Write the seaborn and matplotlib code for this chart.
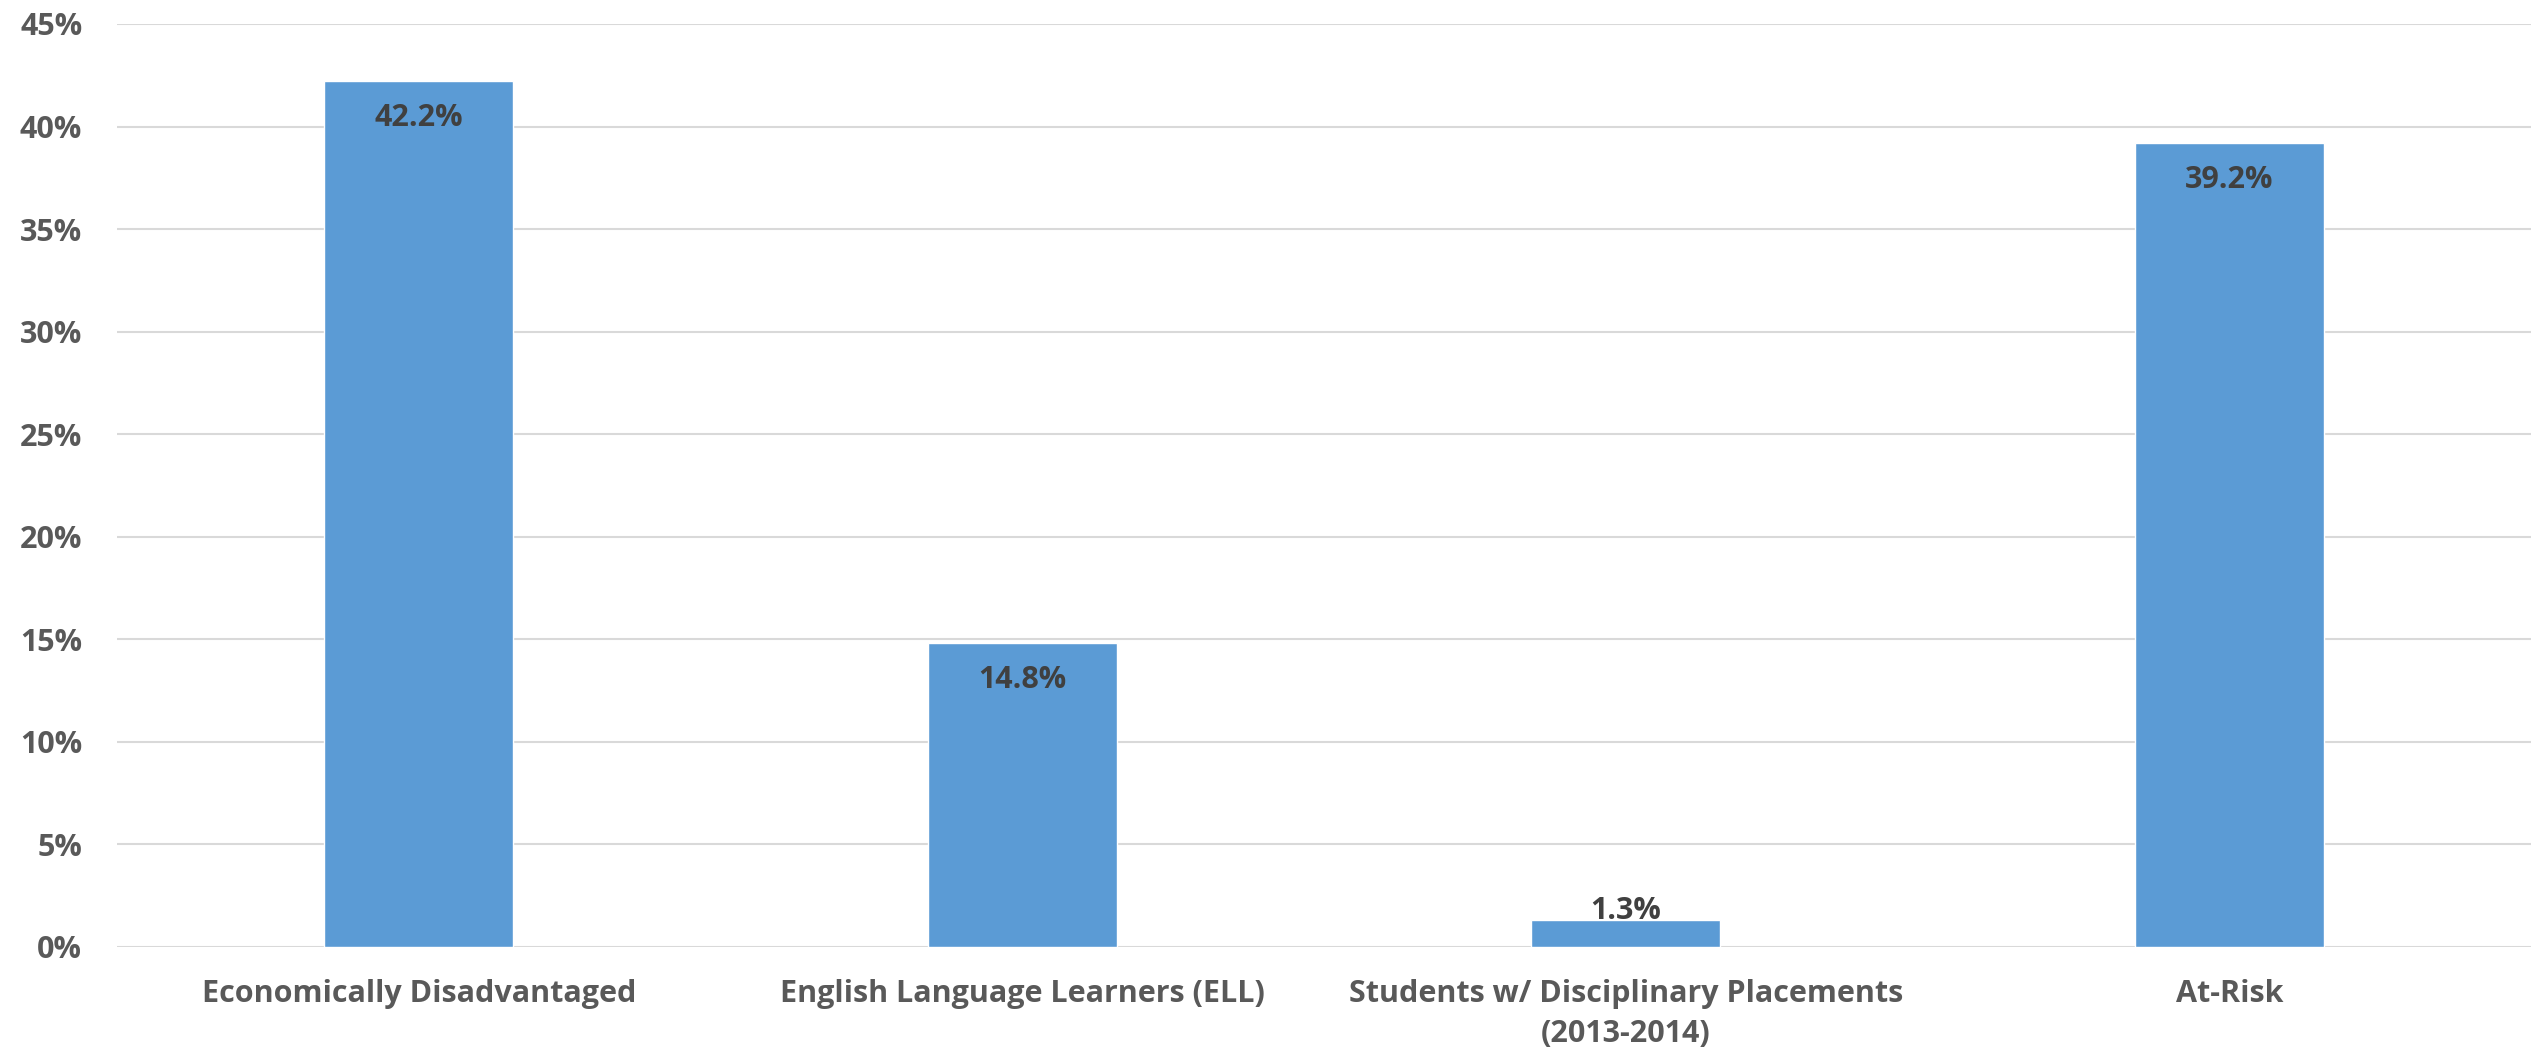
import numpy as np
import pandas as pd
import matplotlib
matplotlib.use("Agg")
import matplotlib.pyplot as plt
from matplotlib.ticker import PercentFormatter, MultipleLocator
import seaborn as sns

categories = [
    "Economically Disadvantaged",
    "English Language Learners (ELL)",
    "Students w/ Disciplinary Placements\n(2013-2014)",
    "At-Risk",
]
values = [0.422, 0.148, 0.013, 0.392]
value_labels = ["42.2%", "14.8%", "1.3%", "39.2%"]

sns.set_theme(style="white")
plt.rcParams['font.family'] = ['Open Sans', 'DejaVu Sans']

df = pd.DataFrame({'group': categories, 'share': values})

fig = plt.figure(figsize=(25.39, 10.61), dpi=100)
ax = fig.add_axes([0.0461, 0.1077, 0.9508, 0.8697])

sns.barplot(data=df, x='group', y='share', color='#5B9BD5', width=0.313,
            saturation=1, ax=ax, zorder=3)

ax.set_xlim(-0.5, 3.5)
ax.set_ylim(0, 0.45)
ax.yaxis.set_major_locator(MultipleLocator(0.05))
ax.yaxis.set_major_formatter(PercentFormatter(xmax=1, decimals=0))
ax.grid(axis='y', color='#d9d9d9', linewidth=1.5, zorder=0)
ax.set_axisbelow(True)
for s in ax.spines.values():
    s.set_visible(False)
ax.set_xlabel('')
ax.set_ylabel('')
ax.tick_params(axis='both', length=0, labelsize=22, labelcolor='#595959')
ax.tick_params(axis='y', pad=25)
ax.tick_params(axis='x', pad=23)
for lab in ax.get_xticklabels() + ax.get_yticklabels():
    lab.set_fontweight('bold')
for lab in ax.get_xticklabels():
    lab.set_linespacing(1.45)

# data labels near the top of each bar
for i, (v, txt) in enumerate(zip(values, value_labels)):
    bar_px = ax.transData.transform((0, v))[1] - ax.transData.transform((0, 0))[1]
    off = 24 if bar_px < 60 else -22
    ax.annotate(txt, (i, v), xytext=(0, off), textcoords='offset pixels',
                ha='center', va='top', fontsize=22, fontweight='bold',
                color='#404040', zorder=4)

fig.savefig('out.png', dpi=100)
